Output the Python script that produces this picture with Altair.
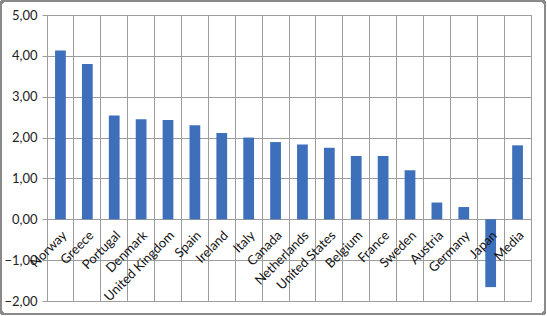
import altair as alt
import pandas as pd

countries = ["Norway", "Greece", "Portugal", "Denmark", "United Kingdom", "Spain",
             "Ireland", "Italy", "Canada", "Netherlands", "United States", "Belgium",
             "France", "Sweden", "Austria", "Germany", "Japan", "Media"]
values = [4.13, 3.80, 2.54, 2.45, 2.43, 2.30, 2.11, 2.00, 1.89, 1.83, 1.75, 1.55,
          1.55, 1.20, 0.41, 0.30, -1.66, 1.81]
y_ticks = [-2, -1, 0, 1, 2, 3, 4, 5]

df = pd.DataFrame({"country": countries, "value": values})

W, H = 484, 286
FONT = "Lato"
GRID = "#9c9c9c"

xscale = alt.Scale(domain=countries, paddingInner=0, paddingOuter=0)
yscale = alt.Scale(domain=[-2, 5], nice=False)

bars = alt.Chart(df).mark_bar(
    color="#3d6fbb", width=alt.RelativeBandSize(0.4)
).encode(
    x=alt.X("country:N", sort=countries, scale=xscale,
            axis=alt.Axis(bandPosition=0, grid=True, gridColor=GRID, labels=False,
                          ticks=False, domain=False, title=None)),
    y=alt.Y("value:Q", scale=yscale,
            axis=alt.Axis(values=y_ticks, grid=True, gridColor=GRID, domain=True,
                          domainColor=GRID, tickColor=GRID, tickSize=5, title=None,
                          labelExpr="replace(format(datum.value, '.2f'), '.', ',')",
                          labelFont=FONT, labelFontSize=13, labelColor="#222222",
                          labelPadding=5)),
)

labels = alt.Chart(df).mark_text(
    angle=315, align="right", baseline="middle", font=FONT, fontSize=13,
    color="#111111", dx=-7, dy=13
).encode(
    x=alt.X("country:N", sort=countries, scale=xscale),
    y=alt.datum(0),
    text="country:N",
)

frame = alt.Chart(df).mark_rect(
    fill=None, stroke="#8a8a8a", strokeWidth=2, cornerRadius=3, clip=False
).encode(
    x=alt.value(-46), x2=alt.value(W + 14),
    y=alt.value(-14), y2=alt.value(H + 13),
)

chart = alt.layer(bars, labels, frame).properties(
    width=W, height=H,
    autosize=alt.AutoSizeParams(type="none"),
    padding={"left": 47, "top": 15, "right": 16, "bottom": 15},
    background="white",
).configure_view(stroke=GRID, strokeWidth=1)

chart.save("out.html", embed_options={"renderer": "svg", "actions": False})
